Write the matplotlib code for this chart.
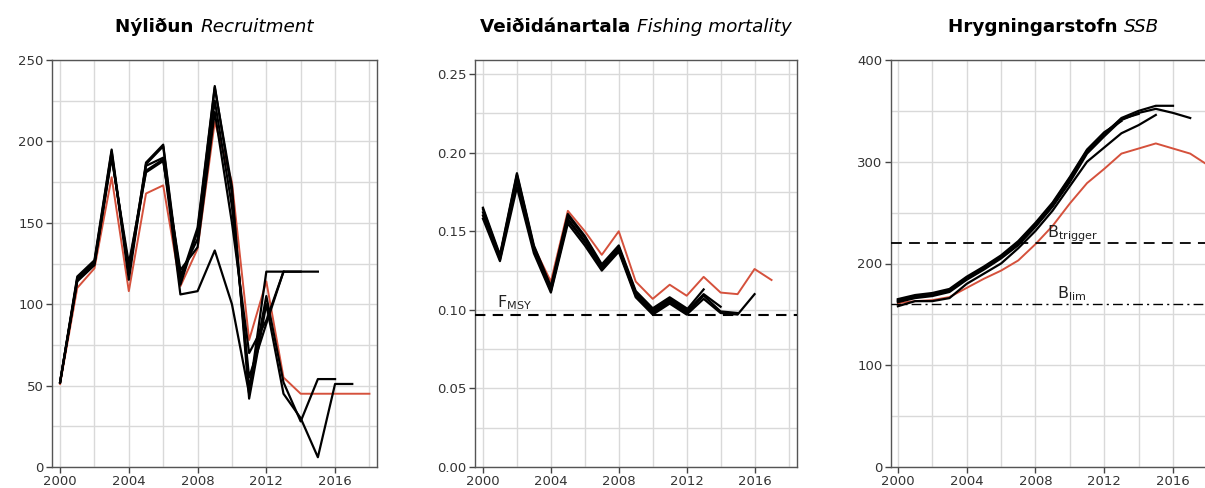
import numpy as np
import matplotlib
matplotlib.use('Agg')
import matplotlib.pyplot as plt

# recruitment (Nýliðun), current assessment (red) and retro peels (black)
rec_years = np.arange(2000, 2019)
rec_now = [51, 110, 122, 178, 108, 168, 173, 111, 134, 212, 175, 78, 114, 55, 45, 45, 45, 45, 45]
rec_peels = [
    [52, 116, 126, 194, 115, 186, 197, 112, 145, 233, 172, 42, 100, 45, 30, 6, 51, 51],
    [52, 117, 127, 195, 118, 187, 198, 115, 147, 234, 168, 48, 105, 52, 28, 54, 54],
    [52, 115, 125, 192, 120, 182, 189, 118, 140, 225, 160, 55, 88, 120, 120, 120],
    [52, 114, 124, 190, 125, 181, 188, 121, 135, 218, 150, 70, 90, 120, 120],
    [52, 115, 125, 191, 122, 185, 190, 106, 108, 133, 100, 45, 120, 120],
]

# fishing mortality (Veiðidánartala)
f_years = np.arange(2000, 2018)
f_now = [0.160, 0.135, 0.182, 0.140, 0.118, 0.163, 0.150, 0.135, 0.150, 0.118,
         0.107, 0.116, 0.109, 0.121, 0.111, 0.110, 0.126, 0.119]
f_peels = [
    [0.158, 0.131, 0.178, 0.136, 0.111, 0.155, 0.141, 0.125, 0.137, 0.108, 0.097, 0.104, 0.097, 0.107, 0.098, 0.097, 0.110],
    [0.160, 0.132, 0.182, 0.138, 0.112, 0.157, 0.143, 0.126, 0.138, 0.109, 0.098, 0.105, 0.098, 0.109, 0.099, 0.098],
    [0.162, 0.133, 0.184, 0.139, 0.113, 0.158, 0.144, 0.127, 0.139, 0.110, 0.099, 0.106, 0.099, 0.110, 0.102],
    [0.164, 0.134, 0.186, 0.140, 0.114, 0.160, 0.146, 0.128, 0.140, 0.111, 0.100, 0.107, 0.100, 0.113],
    [0.165, 0.135, 0.187, 0.141, 0.115, 0.161, 0.147, 0.129, 0.141, 0.112, 0.101, 0.108, 0.101],
]
f_msy = 0.097

# spawning stock biomass (Hrygningarstofn)
ssb_years = np.arange(2000, 2019)
ssb_now = [161, 163, 164, 167, 176, 185, 193, 203, 219, 237, 259, 279, 293, 308, 313, 318, 313, 308, 297]
ssb_peels = [
    [162, 166, 168, 172, 184, 194, 205, 218, 236, 256, 280, 308, 325, 341, 348, 352, 348, 343],
    [163, 167, 169, 173, 185, 195, 206, 219, 237, 257, 282, 310, 327, 343, 350, 355, 355],
    [158, 163, 163, 166, 180, 190, 200, 215, 232, 252, 276, 300, 314, 328, 336, 346],
    [164, 168, 170, 174, 186, 196, 207, 221, 239, 259, 284, 311, 328, 342, 347],
    [165, 169, 171, 175, 187, 197, 208, 222, 240, 260, 285, 312, 329, 340],
]
b_trigger = 220
b_lim = 160

red = '#d5513c'
W, H = 1205, 488

fig = plt.figure(figsize=(W / 100, H / 100), dpi=100)


def make_ax(left, width, xlim, ylim, yticks, yminor, fmt):
    ax = fig.add_axes([left / W, 21 / H, width / W, 407 / H])
    ax.set_xlim(*xlim)
    ax.set_ylim(*ylim)
    ax.set_xticks(np.arange(2000, 2017, 4))
    ax.set_xticks(np.arange(2000, 2019, 2), minor=True)
    ax.set_yticks(yticks)
    ax.set_yticks(yminor, minor=True)
    ax.set_yticklabels([fmt.format(v) for v in yticks])
    ax.grid(True, which='both', color='#d9d9d9', lw=1.0, zorder=0)
    ax.set_axisbelow(True)
    ax.tick_params(which='major', direction='out', length=4, width=1, color='#444444',
                   labelsize=9.5, labelcolor='#333333', pad=2)
    ax.tick_params(which='minor', length=0)
    for s in ax.spines.values():
        s.set_color('#555555')
        s.set_linewidth(1.0)
    return ax


def draw_series(ax, years, now, peels):
    ax.plot(years[:len(now)], now, color=red, lw=1.4, zorder=2)
    for p in peels:
        ax.plot(years[:len(p)], p, color='black', lw=1.6, zorder=3)


ax1 = make_ax(52, 325, (1999.53, 2018.44), (0, 250), np.arange(0, 251, 50),
              np.arange(0, 251, 25), '{:.0f}')
draw_series(ax1, rec_years, rec_now, rec_peels)

ax2 = make_ax(475, 322, (1999.53, 2018.5), (0, 0.259), np.arange(0, 0.26, 0.05),
              np.arange(0, 0.26, 0.025), '{:.2f}')
draw_series(ax2, f_years, f_now, f_peels)
ax2.axhline(f_msy, color='black', lw=1.5, ls=(0, (5, 3.5)), zorder=4)
ax2.text(2000.85, 0.1015, r'$\mathregular{F_{MSY}}$', fontsize=11.5, color='#222222',
         ha='left', va='baseline')

ax3 = make_ax(891, 325, (1999.6, 2018.5), (0, 400), np.arange(0, 401, 100),
              np.arange(0, 401, 50), '{:.0f}')
draw_series(ax3, ssb_years, ssb_now, ssb_peels)
ax3.axhline(b_trigger, color='black', lw=1.3, ls=(0, (6, 4)), zorder=4)
ax3.axhline(b_lim, color='black', lw=1.0, ls=(0, (7, 3, 1.5, 3)), zorder=4)
ax3.text(2008.65, 226, r'$\mathregular{B_{trigger}}$', fontsize=11.5, color='#222222',
         ha='left', va='baseline')
ax3.text(2009.25, 166, r'$\mathregular{B_{lim}}$', fontsize=11.5, color='#222222',
         ha='left', va='baseline')

# two-part titles: bold Icelandic + italic English
titles = [('Nýliðun', 'Recruitment', ax1), ('Veiðidánartala', 'Fishing mortality', ax2),
          ('Hrygningarstofn', 'SSB', ax3)]
centres = [214.5, 636, 1053.5]
fig.canvas.draw()
r = fig.canvas.get_renderer()
for (b, i, ax), c in zip(titles, centres):
    t1 = fig.text(0, 0.934, b + ' ', fontsize=13.2, fontweight='bold', ha='left', va='baseline')
    t2 = fig.text(0, 0.934, i, fontsize=13.2, fontstyle='italic', ha='left', va='baseline')
    w1 = t1.get_window_extent(r).width
    w2 = t2.get_window_extent(r).width
    x0 = c - (w1 + w2) / 2
    t1.set_x(x0 / W)
    t2.set_x((x0 + w1) / W)

fig.savefig('out.png', dpi=100)
